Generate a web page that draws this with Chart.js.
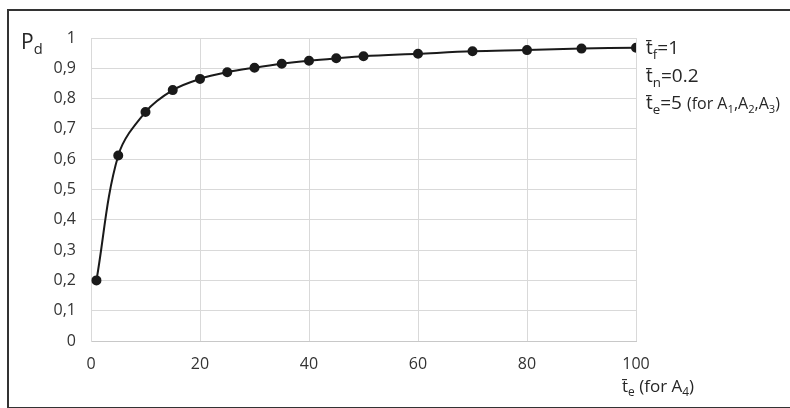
<!DOCTYPE html>
<html>
<head>
<meta charset="utf-8">
<script src="https://cdn.jsdelivr.net/npm/chart.js@4.4.1/dist/chart.umd.min.js"></script>
<style>
  html, body { margin: 0; padding: 0; background: #fff; }
  #wrap { position: relative; width: 790px; height: 408px; overflow: hidden; font-family: "Open Sans", "Noto Sans", sans-serif; color: #262626; }
  #frame { position: absolute; left: 7px; top: 9px; width: 800px; height: 396px; border: 2px solid #333; }
  #chart { position: absolute; left: 0; top: 0; }
  .lbl { position: absolute; white-space: nowrap; line-height: 1.2; }
  sub { font-size: 70%; vertical-align: -0.35em; line-height: 0; }
</style>
</head>
<body>
<div id="wrap">
  <div id="frame"></div>
  <canvas id="chart" width="790" height="408"></canvas>
  <div class="lbl" style="left:21px; top:29px; font-size:21px;">P<sub>d</sub></div>
  <div class="lbl" style="left:646px; top:36px; font-size:19px;">t&#772;<sub>f</sub>=1</div>
  <div class="lbl" style="left:646px; top:64px; font-size:19px;">t&#772;<sub>n</sub>=0.2</div>
  <div class="lbl" style="left:646px; top:91px; font-size:19px;">t&#772;<sub>e</sub>=5 <span style="font-size:16px;">(for A<sub>1</sub>,A<sub>2</sub>,A<sub>3</sub>)</span></div>
  <div class="lbl" style="left:622px; top:376px; font-size:17px;">t&#772;<sub>e</sub> (for A<sub>4</sub>)</div>
</div>
<script>
// values
const teValues = [1, 5, 10, 15, 20, 25, 30, 35, 40, 45, 50, 60, 70, 80, 90, 100];
const pdValues = [0.2, 0.612, 0.756, 0.828, 0.865, 0.887, 0.902, 0.915, 0.925, 0.933, 0.94, 0.948, 0.956, 0.96, 0.965, 0.968];
const xTicks = [0, 20, 40, 60, 80, 100];
const yTicks = [0, 0.1, 0.2, 0.3, 0.4, 0.5, 0.6, 0.7, 0.8, 0.9, 1];

const points = teValues.map(function (t, i) { return { x: t, y: pdValues[i] }; });

const ctx = document.getElementById('chart').getContext('2d');
const myChart = new Chart(ctx, {
  type: 'scatter',
  data: {
    datasets: [{
      data: points,
      showLine: true,
      borderColor: '#1a1a1a',
      backgroundColor: '#1a1a1a',
      borderWidth: 2,
      pointRadius: 4,
      pointHoverRadius: 4,
      tension: 0.35
    }]
  },
  options: {
    responsive: false,
    animation: false,
    events: [],
    layout: { padding: { left: 8, right: 154, top: 38, bottom: 0 } },
    plugins: { legend: { display: false }, tooltip: { enabled: false } },
    scales: {
      x: {
        type: 'linear',
        min: 0, max: 100,
        afterBuildTicks: function (axis) { axis.ticks = xTicks.map(function (v) { return { value: v }; }); },
        afterFit: function (axis) { axis.height = 67; },
        grid: { color: '#d9d9d9', lineWidth: 1, drawTicks: false },
        border: { color: '#c8c8c8', width: 1 },
        ticks: { padding: 14, color: '#333', font: { family: 'Open Sans', size: 16 } }
      },
      y: {
        min: 0, max: 1,
        afterBuildTicks: function (axis) { axis.ticks = yTicks.map(function (v) { return { value: v }; }); },
        afterFit: function (axis) { axis.width = 83; },
        grid: { color: '#d9d9d9', lineWidth: 1, drawTicks: false },
        border: { color: '#d9d9d9', width: 1 },
        ticks: {
          padding: 15,
          color: '#333',
          font: { family: 'Open Sans', size: 16 },
          callback: function (v) { return String(Math.round(v * 10) / 10).replace('.', ','); }
        }
      }
    }
  }
});
</script>
</body>
</html>
